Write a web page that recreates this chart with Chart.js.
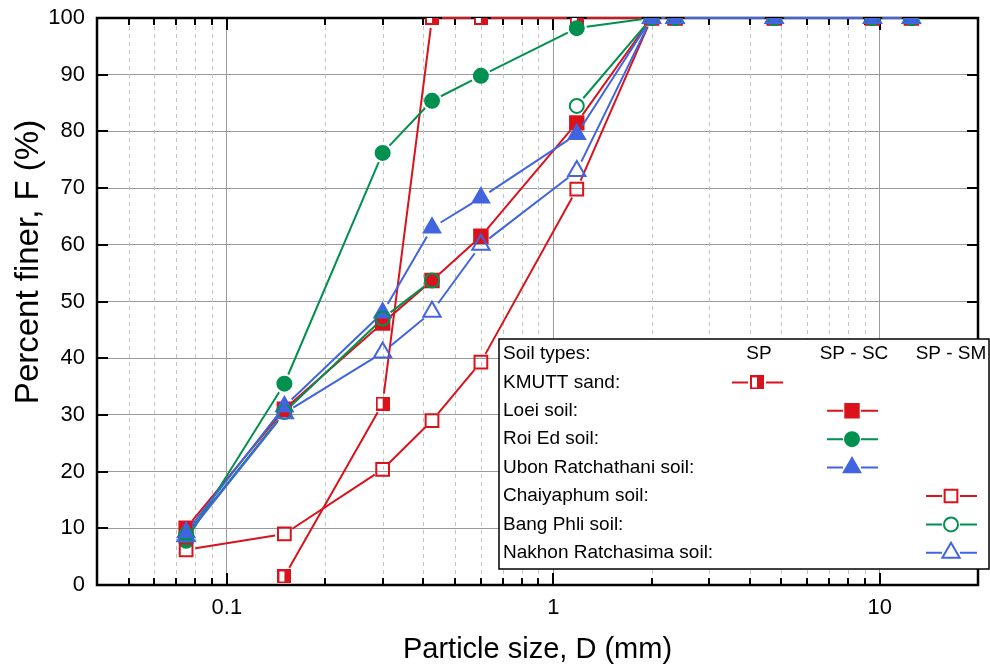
<!DOCTYPE html>
<html>
<head>
<meta charset="utf-8">
<script src="https://cdn.jsdelivr.net/npm/chart.js@4.4.1/dist/chart.umd.min.js"></script>
<style>
  html, body { margin: 0; padding: 0; background: #fff; }
  #wrap { width: 990px; height: 665px; position: relative; }
</style>
</head>
<body>
<div id="wrap"><canvas id="gradation"></canvas></div>
<script>
// sieve sizes (mm) and percent finer for each soil
const sizes = [0.075, 0.15, 0.3, 0.425, 0.6, 1.18, 2.0, 2.36, 4.75, 9.5, 12.5];
const kmuttSand = [null, 1.5, 32, 100, 100, 100, 100, 100, 100, 100, 100];
const loeiSoil = [10, 31, 46.2, 53.7, 61.5, 81.5, 100, 100, 100, 100, 100];
const roiEdSoil = [7.8, 35.5, 76.2, 85.4, 89.8, 98.2, 100, 100, 100, 100, 100];
const ubonSoil = [9.3, 31.5, 48, 63, 68.3, 79.5, 100, 100, 100, 100, 100];
const chaiyaphumSoil = [6.2, 9, 20.4, 29, 39.3, 69.8, 100, 100, 100, 100, 100];
const bangPhliSoil = [8.8, 30.5, 47, 53.7, null, 84.5, 100, 100, 100, 100, 100];
const nakhonSoil = [8.6, 30.3, 41, 48.2, 60, 73, 100, 100, 100, 100, 100];

const xMajor = [0.1, 1, 10];
const xMinor = [0.05, 0.06, 0.07, 0.08, 0.09, 0.2, 0.3, 0.4, 0.5, 0.6, 0.7, 0.8, 0.9,
                2, 3, 4, 5, 6, 7, 8, 9];
const soilTypes = ['SP', 'SP - SC', 'SP - SM'];

const RED = '#d9121b', GREEN = '#00904f', BLUE = '#4164e0';
const FONT = '"Liberation Sans", Arial, Helvetica, sans-serif';

// half filled square used for KMUTT sand
function halfSquare() {
    const c = document.createElement('canvas');
    c.width = 14; c.height = 14;
    const g = c.getContext('2d');
    g.fillStyle = '#fff';
    g.fillRect(1, 1, 12, 12);
    g.fillStyle = RED;
    g.fillRect(7, 1, 6, 12);
    g.strokeStyle = RED;
    g.lineWidth = 2;
    g.strokeRect(1, 1, 12, 12);
    return c;
}
const halfSq = halfSquare();

function pts(arr) {
    return sizes.map((s, i) => ({ x: s, y: arr[i] }));
}

function series(label, arr, color, style, radius, filled, col, order) {
    return {
        label: label,
        data: pts(arr),
        borderColor: color,
        borderWidth: 2,
        showLine: false,
        pointStyle: style,
        pointRadius: radius,
        pointHoverRadius: radius,
        pointBorderWidth: 2,
        pointBorderColor: color,
        pointBackgroundColor: filled ? color : 'rgba(0,0,0,0)',
        order: order,
        legendCol: col
    };
}

const datasets = [
    series('KMUTT sand:', kmuttSand, RED, halfSq, 7, false, 0, 6),
    series('Loei soil:', loeiSoil, RED, 'rect', 9.5, true, 1, 5),
    series('Roi Ed soil:', roiEdSoil, GREEN, 'circle', 7, true, 1, 4),
    series('Ubon Ratchathani soil:', ubonSoil, BLUE, 'triangle', 9.5, true, 1, 3),
    series('Chaiyaphum soil:', chaiyaphumSoil, RED, 'rect', 9, false, 2, 2),
    series('Bang Phli soil:', bangPhliSoil, GREEN, 'circle', 7, false, 2, 1),
    series('Nakhon Ratchasima soil:', nakhonSoil, BLUE, 'triangle', 10, false, 2, 0)
];

// how far a connecting line stops short of the marker centre
function gapOf(ds) {
    if (typeof ds.pointStyle !== 'string') return 10;
    if (ds.pointStyle === 'rect') return ds.pointRadius * 0.72 + 3;
    if (ds.pointStyle === 'circle') return ds.pointRadius + 3;
    return ds.pointRadius * 0.75 + 3;
}

function marker(ctx, ds, cx, y) {
    if (typeof ds.pointStyle !== 'string') {
        const img = ds.pointStyle;
        ctx.drawImage(img, cx - img.width / 2, y - img.height / 2);
        return;
    }
    const r = ds.pointRadius;
    ctx.fillStyle = ds.pointBackgroundColor;
    ctx.strokeStyle = ds.pointBorderColor;
    ctx.lineWidth = 2;
    ctx.beginPath();
    if (ds.pointStyle === 'rect') {
        const s = r * Math.SQRT1_2;
        ctx.rect(cx - s, y - s, 2 * s, 2 * s);
    } else if (ds.pointStyle === 'circle') {
        ctx.arc(cx, y, r, 0, Math.PI * 2);
    } else {
        ctx.moveTo(cx, y - r);
        ctx.lineTo(cx + r * Math.sin(Math.PI / 3), y + r / 2);
        ctx.lineTo(cx - r * Math.sin(Math.PI / 3), y + r / 2);
        ctx.closePath();
    }
    ctx.fill();
    ctx.stroke();
}

// connecting lines with a small gap at each marker
const gapLinePlugin = {
    id: 'gapLine',
    beforeDatasetDraw(chart, args) {
        const ds = chart.data.datasets[args.index];
        const els = args.meta.data;
        const g = gapOf(ds);
        const { ctx } = chart;
        ctx.save();
        ctx.strokeStyle = ds.borderColor;
        ctx.lineWidth = ds.borderWidth;
        ctx.beginPath();
        for (let i = 0; i < els.length - 1; i++) {
            const a = els[i], b = els[i + 1];
            if (a.skip || b.skip) continue;
            const dx = b.x - a.x, dy = b.y - a.y;
            const d = Math.hypot(dx, dy);
            if (d <= 2 * g) continue;
            const ux = dx / d, uy = dy / d;
            ctx.moveTo(a.x + ux * g, a.y + uy * g);
            ctx.lineTo(b.x - ux * g, b.y - uy * g);
        }
        ctx.stroke();
        ctx.restore();
    }
};

// grid, frame and inward ticks
const framePlugin = {
    id: 'frame',
    beforeDatasetsDraw(chart) {
        const { ctx, chartArea: a, scales } = chart;
        const xs = scales.x, ys = scales.y;
        ctx.save();
        ctx.strokeStyle = '#c4c4c4';
        ctx.lineWidth = 1;
        ctx.setLineDash([4, 4]);
        xMinor.forEach(v => {
            const px = Math.round(xs.getPixelForValue(v)) + 0.5;
            ctx.beginPath();
            ctx.moveTo(px, a.top);
            ctx.lineTo(px, a.bottom);
            ctx.stroke();
        });
        ctx.setLineDash([]);
        ctx.strokeStyle = '#000';
        ctx.lineWidth = 2;
        xMinor.concat(xMajor).forEach(v => {
            const px = Math.round(xs.getPixelForValue(v));
            const len = xMajor.includes(v) ? 12 : 7;
            ctx.beginPath();
            ctx.moveTo(px, a.bottom);
            ctx.lineTo(px, a.bottom - len);
            ctx.moveTo(px, a.top);
            ctx.lineTo(px, a.top + len);
            ctx.stroke();
        });
        for (let v = 10; v < 100; v += 10) {
            const py = Math.round(ys.getPixelForValue(v));
            ctx.beginPath();
            ctx.moveTo(a.left, py);
            ctx.lineTo(a.left + 11, py);
            ctx.moveTo(a.right, py);
            ctx.lineTo(a.right - 11, py);
            ctx.stroke();
        }
        ctx.lineWidth = 2.5;
        ctx.strokeRect(a.left, a.top, a.right - a.left, a.bottom - a.top);
        ctx.restore();
    },
    afterDraw(chart) {
        const { ctx, chartArea: a } = chart;
        ctx.save();
        ctx.fillStyle = '#000';
        ctx.font = '29px ' + FONT;
        ctx.textAlign = 'center';
        ctx.textBaseline = 'middle';
        ctx.fillText('Particle size, D (mm)', (a.left + a.right) / 2, 650);
        ctx.font = '33px ' + FONT;
        ctx.translate(29, 262);
        ctx.rotate(-Math.PI / 2);
        ctx.fillText('Percent finer, F (%)', 0, 0);
        ctx.restore();

        // legend box
        const bx = 499, by = 339, bw = 490, bh = 230;
        const rowH = 28.4, row0 = 354;
        const colX = [757, 852, 951];
        ctx.save();
        ctx.fillStyle = '#fff';
        ctx.fillRect(bx, by, bw, bh);
        ctx.strokeStyle = '#000';
        ctx.lineWidth = 1.5;
        ctx.strokeRect(bx, by, bw, bh);
        ctx.fillStyle = '#000';
        ctx.font = '19px ' + FONT;
        ctx.textBaseline = 'middle';
        ctx.textAlign = 'left';
        ctx.fillText('Soil types:', 503, row0);
        ctx.textAlign = 'center';
        soilTypes.forEach((t, i) => ctx.fillText(t, colX[i] + (i === 2 ? 0 : 2), row0));
        chart.data.datasets.forEach((ds, i) => {
            const y = row0 + rowH * (i + 1);
            ctx.textAlign = 'left';
            ctx.fillStyle = '#000';
            ctx.fillText(ds.label, 503, y);
            const cx = colX[ds.legendCol];
            ctx.strokeStyle = ds.borderColor;
            ctx.lineWidth = 2;
            ctx.beginPath();
            ctx.moveTo(cx - 25, y); ctx.lineTo(cx - 9, y);
            ctx.moveTo(cx + 9, y); ctx.lineTo(cx + 26, y);
            ctx.stroke();
            marker(ctx, ds, cx, y);
        });
        ctx.restore();
    }
};

new Chart(document.getElementById('gradation'), {
    type: 'line',
    data: { datasets: datasets },
    options: {
        responsive: true,
        maintainAspectRatio: false,
        animation: false,
        events: [],
        layout: { padding: { top: 18, right: 8, left: 0, bottom: 0 } },
        plugins: { legend: { display: false }, tooltip: { enabled: false } },
        scales: {
            x: {
                type: 'logarithmic',
                min: 0.04,
                max: 20,
                afterBuildTicks: s => { s.ticks = xMajor.map(v => ({ value: v })); },
                afterFit: s => {
                    s.height = 80;
                    s.paddingLeft = 0; s.paddingRight = 0;
                },
                ticks: {
                    autoSkip: false,
                    maxRotation: 0,
                    padding: 10,
                    color: '#000',
                    font: { family: FONT, size: 22 },
                    callback: v => String(v)
                },
                grid: { color: '#9a9a9a', lineWidth: 1, drawTicks: false },
                border: { display: false }
            },
            y: {
                min: 0,
                max: 100,
                afterFit: s => {
                    s.width = 97;
                    s.paddingTop = 0; s.paddingBottom = 0;
                },
                ticks: {
                    stepSize: 10,
                    padding: 12,
                    color: '#000',
                    font: { family: FONT, size: 22 }
                },
                grid: { color: '#9a9a9a', lineWidth: 1, drawTicks: false },
                border: { display: false }
            }
        }
    },
    plugins: [framePlugin, gapLinePlugin]
});
</script>
</body>
</html>
